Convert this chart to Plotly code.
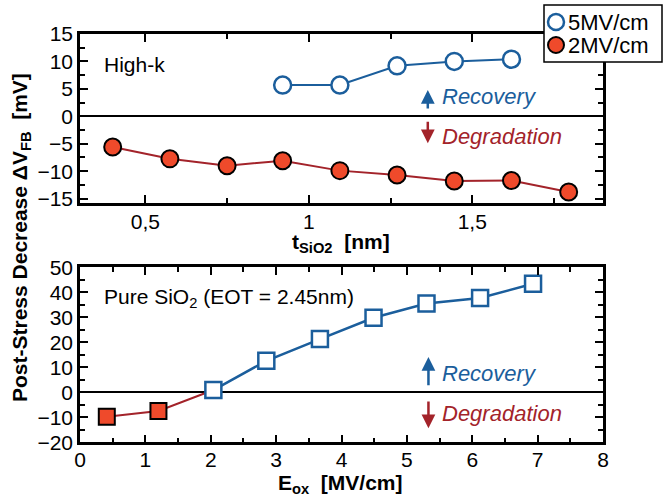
import plotly.graph_objects as go

# High-k stack: flat-band voltage shift after stress vs. interfacial SiO2 thickness
t_sio2_2mv = [0.40, 0.575, 0.75, 0.92, 1.095, 1.27, 1.445, 1.62, 1.795]
dvfb_2mv = [-5.6, -7.75, -9.0, -8.1, -9.9, -10.7, -11.8, -11.7, -13.8]
t_sio2_5mv = [0.92, 1.095, 1.27, 1.445, 1.62]
dvfb_5mv = [5.7, 5.7, 9.2, 10.0, 10.4]

# Pure SiO2: shift vs. oxide field
eox_deg = [0.41, 1.2]
dvfb_deg = [-9.8, -7.5]
eox_rec = [2.04, 2.85, 3.67, 4.49, 5.30, 6.12, 6.93]
dvfb_rec = [0.9, 12.6, 21.3, 29.8, 35.5, 37.7, 43.4]

legend_names = ["5MV/cm", "2MV/cm"]

BLUE = "#1b5e9c"
DRED = "#a3232a"
RFILL = "#ef4a2b"
FONT = "Liberation Sans, Arial, Helvetica, sans-serif"

W, H = 664, 499
L, R = 80, 603
TOP1, BOT1 = 34, 203
TOP2, BOT2 = 267.3, 442.3

def px(x):
    return x / W

def py(y):
    return 1 - y / H

fig = go.Figure()

# top panel
fig.add_trace(go.Scatter(
    x=t_sio2_2mv, y=dvfb_2mv, mode="lines+markers", xaxis="x", yaxis="y",
    line=dict(color=DRED, width=2),
    marker=dict(symbol="circle", size=17, color=RFILL, line=dict(color="black", width=2)),
    showlegend=False))
fig.add_trace(go.Scatter(
    x=t_sio2_5mv, y=dvfb_5mv, mode="lines+markers", xaxis="x", yaxis="y",
    line=dict(color=BLUE, width=2),
    marker=dict(symbol="circle", size=17, color="white", line=dict(color=BLUE, width=2.5)),
    showlegend=False))

# bottom panel: degradation branch joins the first recovery point
fig.add_trace(go.Scatter(
    x=eox_deg + eox_rec[:1], y=dvfb_deg + dvfb_rec[:1], mode="lines", xaxis="x2", yaxis="y2",
    line=dict(color=DRED, width=2), showlegend=False))
fig.add_trace(go.Scatter(
    x=eox_deg, y=dvfb_deg, mode="markers", xaxis="x2", yaxis="y2",
    marker=dict(symbol="square", size=16, color=RFILL, line=dict(color="black", width=2)),
    showlegend=False))
fig.add_trace(go.Scatter(
    x=eox_rec, y=dvfb_rec, mode="lines+markers", xaxis="x2", yaxis="y2",
    line=dict(color=BLUE, width=2.5),
    marker=dict(symbol="square", size=16, color="white", line=dict(color=BLUE, width=2.5)),
    showlegend=False))

axis_common = dict(
    showline=True, linecolor="black", linewidth=2.5, mirror="allticks",
    ticks="inside", ticklen=8, tickwidth=1.5, tickcolor="black",
    showgrid=False, automargin=False,
    tickfont=dict(family=FONT, size=21, color="black"),
)
minor_common = dict(ticks="inside", ticklen=5, tickwidth=1.5, tickcolor="black")

fig.update_layout(
    template="none",
    width=W, height=H,
    margin=dict(l=0, r=0, t=0, b=0, autoexpand=False),
    paper_bgcolor="white", plot_bgcolor="white",
    separators=",.",
    showlegend=False,
    font=dict(family=FONT, color="black"),
    xaxis=dict(domain=[px(L), px(R)], anchor="y", range=[0.3, 1.9],
               tick0=0.5, dtick=0.5, zeroline=False, ticklabelstandoff=-2,
               minor=dict(dtick=0.25, **minor_common), **axis_common),
    yaxis=dict(domain=[py(BOT1), py(TOP1)], anchor="x", range=[-15.8, 15],
               tick0=0, dtick=5, zeroline=True, zerolinecolor="black", zerolinewidth=1.5,
               minor=dict(dtick=2.5, **minor_common), **axis_common),
    xaxis2=dict(domain=[px(L), px(R)], anchor="y2", range=[0, 8],
                tick0=0, dtick=1, zeroline=False, ticklabelstandoff=-3,
                minor=dict(dtick=0.5, **minor_common), **axis_common),
    yaxis2=dict(domain=[py(BOT2), py(TOP2)], anchor="x2", range=[-20, 50],
                tick0=0, dtick=10, zeroline=True, zerolinecolor="black", zerolinewidth=1.5,
                minor=dict(dtick=5, **minor_common), **axis_common),
)

# legend box with marker swatches, drawn over the top-right corner of the frame
shapes = [dict(type="rect", xref="paper", yref="paper", layer="above",
               x0=px(544), x1=px(662), y0=py(62), y1=py(5),
               fillcolor="white", line=dict(color="black", width=1.5))]
swatches = [("white", BLUE, 2.5), (RFILL, "black", 2)]
ann = []
for i, (name, (fill, edge, lw)) in enumerate(zip(legend_names, swatches)):
    cy = 22 + 23 * i
    rad = 8
    shapes.append(dict(type="circle", xref="paper", yref="paper", layer="above",
                       x0=px(556 - rad), x1=px(556 + rad), y0=py(cy + rad), y1=py(cy - rad),
                       fillcolor=fill, line=dict(color=edge, width=lw)))
    ann.append(dict(text=name, x=px(566), y=py(cy + 0.5), xref="paper", yref="paper",
                    xanchor="left", yanchor="middle", showarrow=False,
                    font=dict(family=FONT, size=22, color="black")))

# axis titles
ann.append(dict(text="<b>Post-Stress Decrease \u0394V<sub>FB</sub>&nbsp;&nbsp;[mV]</b>", textangle=-90,
                x=px(21), y=py(238), xref="paper", yref="paper", xanchor="center", yanchor="middle",
                showarrow=False, font=dict(family=FONT, size=21, color="black")))
ann.append(dict(text="<b>t<sub>SiO2</sub>&nbsp;&nbsp;[nm]</b>", x=px(341), y=py(243), xref="paper", yref="paper",
                xanchor="center", yanchor="middle",
                showarrow=False, font=dict(family=FONT, size=21, color="black")))
ann.append(dict(text="<b>E<sub>ox</sub>&nbsp;&nbsp;[MV/cm]</b>", x=px(341), y=py(484), xref="paper", yref="paper",
                xanchor="center", yanchor="middle",
                showarrow=False, font=dict(family=FONT, size=21, color="black")))
# panel labels
ann.append(dict(text="High-k", x=px(102), y=py(64), xref="paper", yref="paper",
                xanchor="left", yanchor="middle",
                showarrow=False, font=dict(family=FONT, size=21, color="black")))
ann.append(dict(text="Pure SiO<sub>2</sub> (EOT = 2.45nm)", x=px(102), y=py(298), xref="paper", yref="paper",
                xanchor="left", yanchor="middle", showarrow=False, font=dict(family=FONT, size=21, color="black")))

# recovery / degradation arrows in both panels
for xa, ya, xr, blue_tip, blue_tail, red_tail, red_tip in [
    ("x", "y", 1.364, 4.8, 1.15, -0.7, -4.9),
    ("x2", "y2", 5.33, 14.1, 2.25, -3.1, -14.4),
]:
    ann.append(dict(x=xr, y=blue_tip, ax=xr, ay=blue_tail, xref=xa, yref=ya, axref=xa, ayref=ya,
                    text="", showarrow=True, arrowhead=2, arrowsize=1.1, arrowwidth=2.5, arrowcolor=BLUE))
    ann.append(dict(x=xr, y=red_tip, ax=xr, ay=red_tail, xref=xa, yref=ya, axref=xa, ayref=ya,
                    text="", showarrow=True, arrowhead=2, arrowsize=1.1, arrowwidth=2.5, arrowcolor=DRED))

for label, color, ypix in [("Recovery", BLUE, 97), ("Degradation", DRED, 137),
                           ("Recovery", BLUE, 373), ("Degradation", DRED, 413)]:
    ann.append(dict(text="<i>" + label + "</i>", x=px(440), y=py(ypix), xref="paper", yref="paper",
                    xanchor="left", yanchor="middle", showarrow=False,
                    font=dict(family=FONT, size=22, color=color)))

fig.update_layout(annotations=ann, shapes=shapes)
fig.write_html("out.html")
